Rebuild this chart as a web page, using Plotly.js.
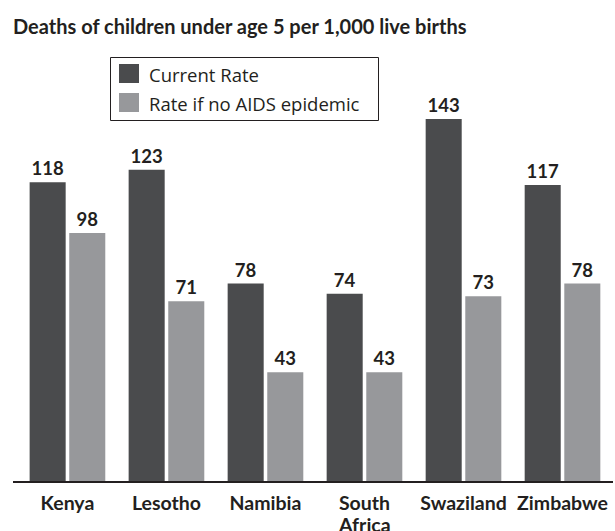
<!DOCTYPE html>
<html>
<head>
<meta charset="utf-8">
<script src="https://cdn.plot.ly/plotly-3.0.1.min.js"></script>
<style>
  html, body { margin: 0; padding: 0; background: #ffffff; }
  #chart { width: 615px; height: 531px; }
</style>
</head>
<body>
<div id="chart"></div>
<script>
// Under-5 mortality per 1,000 live births, by country
const countries = ['Kenya', 'Lesotho', 'Namibia', 'South Africa', 'Swaziland', 'Zimbabwe'];
const currentRate = [118, 123, 78, 74, 143, 117];
const noAidsRate = [98, 71, 43, 43, 73, 78];
const seriesNames = ['Current Rate', 'Rate if no AIDS epidemic'];
// category labels broken over lines
const tickLines = [['Kenya'], ['Lesotho'], ['Namibia'], ['South', 'Africa'], ['Swaziland'], ['Zimbabwe']];

const DARK = '#4a4b4d';
const LIGHT = '#97989b';
const INK = '#231f20';
const BOLD = 'Lato, "Open Sans", sans-serif';
const REG = '"Open Sans", Lato, sans-serif';

// plot area in pixels (used for the boxed legend)
const W = 615, H = 531;
const M = { l: 13, r: 2, t: 50, b: 50 };
const pw = W - M.l - M.r, ph = H - M.t - M.b;
const px = x => (x - M.l) / pw;
const py = y => (H - M.b - y) / ph;

const labelFont = { family: BOLD, size: 18.5, color: INK, weight: 700 };
const tickFont = { family: BOLD, size: 19.5, color: INK, weight: 700 };

const traces = [
  {
    type: 'bar', name: seriesNames[0], x: countries, y: currentRate,
    marker: { color: DARK, line: { width: 0 } },
    text: currentRate.map(String), textposition: 'outside',
    outsidetextfont: labelFont, constraintext: 'none', cliponaxis: false,
    hoverinfo: 'x+y'
  },
  {
    type: 'bar', name: seriesNames[1], x: countries, y: noAidsRate,
    marker: { color: LIGHT, line: { width: 0 } },
    text: noAidsRate.map(String), textposition: 'outside',
    outsidetextfont: labelFont, constraintext: 'none', cliponaxis: false,
    hoverinfo: 'x+y'
  }
];

// legend: framed box with square swatches
const legendShapes = [
  { type: 'rect', xref: 'paper', yref: 'paper',
    x0: px(110.5), x1: px(378.5), y0: py(120.5), y1: py(57.5),
    line: { color: INK, width: 1 }, fillcolor: 'rgba(0,0,0,0)' },
  { type: 'rect', xref: 'paper', yref: 'paper',
    x0: px(119), x1: px(139), y0: py(83), y1: py(64),
    line: { width: 0 }, fillcolor: DARK },
  { type: 'rect', xref: 'paper', yref: 'paper',
    x0: px(119), x1: px(139), y0: py(112), y1: py(93),
    line: { width: 0 }, fillcolor: LIGHT }
];
const legendNotes = seriesNames.map((name, i) => ({
  xref: 'paper', yref: 'paper', x: px(147), y: py(i === 0 ? 75 : 104),
  xanchor: 'left', yanchor: 'middle', showarrow: false, text: name,
  font: { family: REG, size: 18.5, color: INK }
}));

// second lines of wrapped category labels
const extraLines = [];
tickLines.forEach((lines, i) => {
  lines.slice(1).forEach((line, j) => {
    extraLines.push({
      xref: 'x', yref: 'paper', x: countries[i], y: 0, yanchor: 'top',
      yshift: -30 - 19 * j, showarrow: false, text: line, font: tickFont
    });
  });
});

const layout = {
  width: W, height: H,
  margin: M,
  paper_bgcolor: '#ffffff', plot_bgcolor: '#ffffff',
  showlegend: false,
  barmode: 'group', bargap: 0.2, bargroupgap: 0.09,
  title: {
    text: 'Deaths of children under age 5 per 1,000 live births',
    xref: 'container', yref: 'container', x: 13 / W, xanchor: 'left',
    y: 1 - 27 / H, yanchor: 'middle',
    font: { family: BOLD, size: 20, color: INK, weight: 700 }
  },
  xaxis: {
    range: [-0.55, 5.51], showgrid: false, zeroline: false,
    showline: true, linecolor: INK, linewidth: 2,
    ticks: '', ticklabelstandoff: 4,
    tickmode: 'array', tickvals: countries, ticktext: tickLines.map(l => l[0]),
    tickfont: tickFont,
    fixedrange: true
  },
  yaxis: {
    range: [0, 170.3], visible: false, showgrid: false, zeroline: false,
    fixedrange: true
  },
  shapes: legendShapes,
  annotations: legendNotes.concat(extraLines)
};

Plotly.newPlot('chart', traces, layout, { displayModeBar: false, staticPlot: true });
</script>
</body>
</html>
